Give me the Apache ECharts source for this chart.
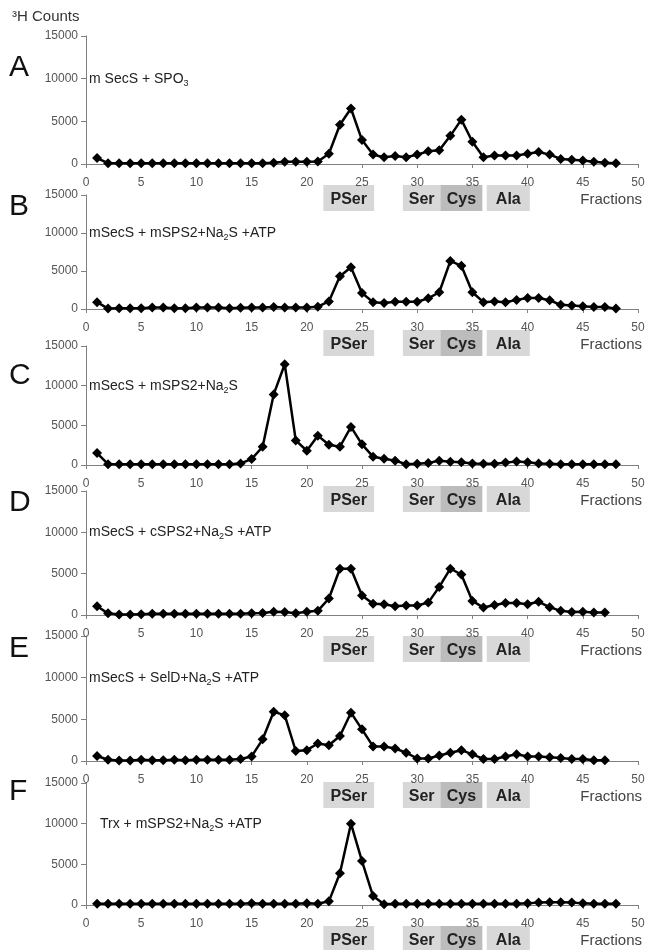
<!DOCTYPE html>
<html><head><meta charset="utf-8">
<script src="https://cdn.jsdelivr.net/npm/echarts@6/dist/echarts.min.js"></script>
<style>html,body{margin:0;padding:0;background:#fff}#c{width:648px;height:950px}</style>
</head><body><div id="c"></div>
<script>
// ---------- data ----------
const fractions48 = [1,2,3,4,5,6,7,8,9,10,11,12,13,14,15,16,17,18,19,20,21,22,23,24,25,26,27,28,29,30,31,32,33,34,35,36,37,38,39,40,41,42,43,44,45,46,47,48];
const fractions47 = [1,2,3,4,5,6,7,8,9,10,11,12,13,14,15,16,17,18,19,20,21,22,23,24,25,26,27,28,29,30,31,32,33,34,35,36,37,38,39,40,41,42,43,44,45,46,47];
const countsA = [700,100,100,100,100,100,100,100,100,100,100,100,100,100,100,100,150,250,250,250,300,1200,4600,6500,2800,1100,800,950,800,1100,1500,1600,3300,5200,2600,800,1000,1000,1000,1200,1400,1100,600,500,400,250,150,100];
const countsB = [900,50,100,100,100,200,200,100,100,200,200,200,100,150,200,200,250,200,200,200,300,1000,4300,5500,2100,900,800,950,950,950,1400,2200,6300,5700,2200,900,1000,900,1200,1450,1450,1150,550,450,350,250,250,50];
const countsC = [1500,100,100,100,100,100,100,100,100,100,100,100,100,200,750,2300,8900,12700,3100,1800,3700,2550,2300,4800,2600,1050,800,550,100,150,250,550,400,350,200,150,150,300,450,350,200,150,100,100,100,100,100,100];
const countsD = [1050,200,50,50,100,150,150,150,150,150,150,150,150,150,200,250,400,350,200,400,500,2000,5600,5600,2350,1350,1300,1050,1150,1150,1500,3400,5600,4900,1700,900,1200,1450,1450,1300,1600,950,500,350,400,300,300];
const countsE = [600,150,50,50,150,100,100,150,100,150,150,150,150,250,550,2600,5900,5500,1200,1300,2100,1900,3000,5800,3800,1750,1750,1500,1000,300,300,650,1000,1300,800,250,250,550,800,550,550,450,350,250,250,100,100];
const countsF = [150,150,150,150,150,150,150,150,150,150,150,150,150,150,200,150,150,150,150,200,150,450,3900,10000,5400,1100,100,150,150,150,150,150,150,150,150,150,150,150,150,200,300,350,350,300,200,150,150,150];
const xTickValues = [0,5,10,15,20,25,30,35,40,45,50];
const yTickValues = [0,5000,10000,15000];
const panelLetters = ['A','B','C','D','E','F'];
const panelNotes = [
  'm SecS + SPO{s|3}',
  'mSecS + mSPS2+Na{s|2}S +ATP',
  'mSecS + mSPS2+Na{s|2}S',
  'mSecS + cSPS2+Na{s|2}S +ATP',
  'mSecS + SelD+Na{s|2}S +ATP',
  'Trx + mSPS2+Na{s|2}S +ATP'
];
const bandNames = ['PSer','Ser','Cys','Ala'];
const bandFrom  = [21.5, 28.7, 32.1, 36.3];
const bandTo    = [26.1, 32.1, 35.9, 40.2];
const bandDark  = [false, false, true, false];
const yTitle = '³H Counts';
const xTitle = 'Fractions';

const panels = [
  {x: fractions48, y: countsA},
  {x: fractions48, y: countsB},
  {x: fractions48, y: countsC},
  {x: fractions47, y: countsD},
  {x: fractions47, y: countsE},
  {x: fractions48, y: countsF}
];

// ---------- layout (not data) ----------
const layout = [
  {top: 36, height: 128, letterDy: 32, noteX: 89},
  {top: 195, height: 114, letterDy: 12, noteX: 89},
  {top: 346, height: 119, letterDy: 30, noteX: 89},
  {top: 491, height: 124, letterDy: 12, noteX: 89},
  {top: 636, height: 125, letterDy: 13, noteX: 89},
  {top: 783, height: 122, letterDy: 9, noteX: 100}
];
const FONT = 'Liberation Sans, Arial, sans-serif';
const AXIS_COLOR = '#808080';
const LABEL_COLOR = '#555';

const chart = echarts.init(document.getElementById('c'), null, {renderer: 'canvas'});
const grids = [], xAxes = [], yAxes = [], series = [];
panels.forEach((p, i) => {
  grids.push({left: 86, right: 10, top: layout[i].top, height: layout[i].height, containLabel: false});
  xAxes.push({
    type: 'value', gridIndex: i, min: xTickValues[0], max: xTickValues[xTickValues.length-1], interval: 5,
    axisLine: {show: true, lineStyle: {color: AXIS_COLOR, width: 1}},
    axisTick: {show: true, length: 4, lineStyle: {color: AXIS_COLOR}},
    axisLabel: {color: LABEL_COLOR, fontSize: 12, fontFamily: FONT, margin: 13, formatter: v => String(v)},
    splitLine: {show: false}
  });
  yAxes.push({
    type: 'value', gridIndex: i, min: yTickValues[0], max: yTickValues[yTickValues.length-1], interval: 5000,
    axisLine: {show: true, lineStyle: {color: AXIS_COLOR, width: 1}},
    axisTick: {show: true, length: 5, lineStyle: {color: AXIS_COLOR}},
    axisLabel: {color: LABEL_COLOR, fontSize: 12, fontFamily: FONT, margin: 8, formatter: v => String(v)},
    splitLine: {show: false}
  });
  series.push({
    type: 'line', xAxisIndex: i, yAxisIndex: i,
    data: p.x.map((f, k) => [f, p.y[k]]),
    symbol: 'diamond', symbolSize: 10,
    lineStyle: {color: '#000', width: 2.5},
    itemStyle: {color: '#000'},
    z: 5
  });
});

chart.setOption({
  animation: false,
  backgroundColor: '#fff',
  grid: grids, xAxis: xAxes, yAxis: yAxes, series: series
});

const gfx = [];
gfx.push({type: 'text', left: 12, top: 9, z: 10,
  style: {text: yTitle, fontSize: 15, fontFamily: FONT, fill: '#333'}});
panels.forEach((p, i) => {
  const origin = chart.convertToPixel({xAxisIndex: i, yAxisIndex: i}, [0, 0]);
  const y10k = chart.convertToPixel({xAxisIndex: i, yAxisIndex: i}, [0, 10000])[1];
  const axisY = origin[1];
  gfx.push({type: 'text', x: 9, y: layout[i].top + layout[i].letterDy, z: 10,
    style: {text: panelLetters[i], fontSize: 30, fontFamily: FONT, fill: '#111', verticalAlign: 'middle'}});
  gfx.push({type: 'text', x: layout[i].noteX, y: y10k, z: 10,
    style: {text: panelNotes[i], fontSize: 14, fontFamily: FONT, fill: '#222', verticalAlign: 'middle',
      rich: {s: {fontSize: 9, fontFamily: FONT, fill: '#222', padding: [9, 0, 0, 0]}}}});
  bandNames.forEach((name, b) => {
    const x0 = chart.convertToPixel({xAxisIndex: i, yAxisIndex: i}, [bandFrom[b], 0])[0];
    const x1 = chart.convertToPixel({xAxisIndex: i, yAxisIndex: i}, [bandTo[b], 0])[0];
    gfx.push({type: 'rect', z: -10, silent: true,
      shape: {x: x0, y: axisY + 21, width: x1 - x0, height: 26},
      style: {fill: bandDark[b] ? '#bcbcbc' : '#d8d8d8'}});
    gfx.push({type: 'text', z: -9, x: (x0 + x1) / 2, y: axisY + 36,
      style: {text: name, fontSize: 16, fontWeight: 'bold', fontFamily: FONT, fill: '#222',
        align: 'center', verticalAlign: 'middle'}});
  });
  const xEnd = chart.convertToPixel({xAxisIndex: i, yAxisIndex: i}, [50, 0])[0];
  gfx.push({type: 'text', z: 10, x: xEnd + 4, y: axisY + 36,
    style: {text: xTitle, fontSize: 15, fontFamily: FONT, fill: '#444', align: 'right', verticalAlign: 'middle'}});
});
chart.setOption({graphic: {elements: gfx}});
</script></body></html>
